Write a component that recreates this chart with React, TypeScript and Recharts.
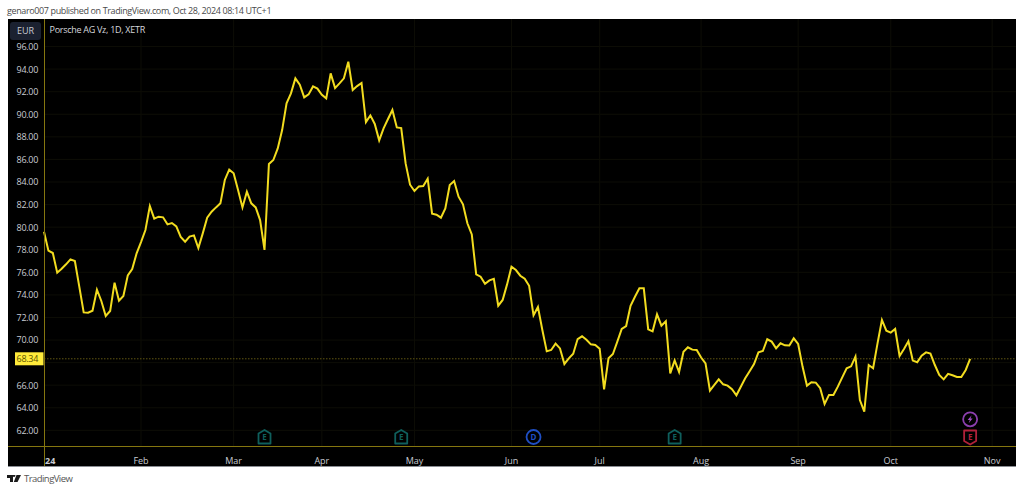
import { CartesianGrid, Line, LineChart, ReferenceDot, ReferenceLine, XAxis, YAxis } from "recharts"

// daily closes, one per trading day from 2 Jan 2024
const closes = [
  79.6, 77.92, 77.71, 75.97, 76.32, 76.71, 77.15, 77.0, 74.73, 72.45,
  72.42, 72.6, 74.46, 73.46, 72.13, 72.57, 75.08, 73.49, 73.9, 75.73,
  76.29, 77.68, 78.68, 79.75, 81.87, 80.75, 80.93, 80.87, 80.25, 80.37,
  80.07, 79.13, 78.71, 79.16, 79.27, 78.15, 79.45, 80.84, 81.37, 81.75,
  82.11, 84.18, 85.09, 84.77, 83.29, 81.75, 83.14, 82.11, 81.75, 80.63,
  77.98, 85.59, 85.95, 86.98, 88.6, 90.97, 91.85, 93.18, 92.62, 91.5,
  91.76, 92.47, 92.27, 91.73, 91.41, 93.62, 92.32, 92.74, 93.18, 94.66,
  92.15, 92.5, 92.77, 89.31, 89.9, 89.14, 87.69, 88.75, 89.58, 90.38,
  88.84, 88.78, 85.65, 83.76, 83.2, 83.61, 83.64, 84.29, 81.19, 81.1,
  80.84, 81.66, 83.73, 84.09, 82.7, 82.02, 80.34, 79.36, 75.82, 75.61,
  74.99, 75.29, 75.43, 73.04, 73.55, 74.93, 76.5, 76.2, 75.7, 75.43,
  74.81, 72.19, 72.93, 70.89, 69.0, 69.12, 69.68, 69.26, 67.88, 68.38,
  68.79, 70.09, 70.33, 70.03, 69.62, 69.56, 69.23, 65.63, 68.38, 68.76,
  69.86, 70.98, 71.24, 73.04, 73.84, 74.58, 74.58, 70.95, 70.77, 72.28,
  71.27, 71.66, 67.05, 68.2, 67.17, 68.97, 69.36, 69.15, 69.12, 68.45,
  67.94, 65.52, 66.02, 66.52, 66.08, 65.96, 65.64, 65.11, 65.87, 66.61,
  67.23, 67.88, 68.91, 69.03, 70.07, 69.86, 69.27, 69.71, 69.53, 69.51,
  70.15, 69.65, 67.65, 65.96, 66.26, 66.23, 65.73, 64.34, 65.14, 65.14,
  65.87, 66.7, 67.5, 67.67, 68.53, 64.69, 63.66, 67.79, 67.5, 69.71,
  71.78, 70.83, 70.66, 70.98, 68.59, 69.21, 69.89, 68.18, 68.03, 68.62,
  68.91, 68.8, 67.79, 66.91, 66.52, 67.0, 66.88, 66.73, 66.73, 67.35,
  68.34,
]

const monthLabels = ["24", "Feb", "Mar", "Apr", "May", "Jun", "Jul", "Aug", "Sep", "Oct", "Nov"]
const monthBars = [0, 22, 43, 63, 84, 106, 126, 149, 171, 192, 215]
const priceTicks = [62, 64, 66, 68, 70, 72, 74, 76, 78, 80, 82, 84, 86, 88, 90, 92, 94, 96]
const lastPrice = 68.34

const earningsBars = [50, 81, 143]
const dividendBar = 111
const upcomingBar = 210

const data = closes.map((close, bar) => ({ bar, close }))

const FONT = "'Open Sans', sans-serif"
const YELLOW = "#f2dc1f"
const AXIS_OLIVE = "#85760f"
const GRID = "#0d0d06"
const LABEL = "#c9ccd3"

const PriceTick = ({ y, payload }: any) => {
  if (payload.value === lastPrice) {
    return (
      <g>
        <rect x={7} y={y - 6.5} width={28.5} height={13} fill="#ffeb3b" />
        <text x={30} y={y + 3.4} textAnchor="end" fontSize={9} letterSpacing={-0.3} fill="#5a5200" fontFamily={FONT}>
          {lastPrice.toFixed(2)}
        </text>
      </g>
    )
  }
  // 68.00 sits behind the price tag in the original
  if (payload.value === 68) return <g />
  return (
    <text x={30} y={y + 3.4} textAnchor="end" fontSize={9} letterSpacing={-0.3} fill={LABEL} fontFamily={FONT}>
      {payload.value.toFixed(2)}
    </text>
  )
}

const MonthTick = ({ x, y, payload }: any) => {
  const first = payload.value === 0
  return (
    <text
      x={first ? x + 1 : x}
      y={y + 9}
      textAnchor={first ? "start" : "middle"}
      fontSize={9}
      fontWeight={first ? 700 : 400}
      fill={LABEL}
      fontFamily={FONT}
    >
      {monthLabels[monthBars.indexOf(payload.value)]}
    </text>
  )
}

const Earnings = ({ cx, cy, color, down }: any) => (
  <g transform={`translate(${cx},${cy})`}>
    <path
      d={down ? "M-6,-6.5 H6 V4 L0,7.5 L-6,4 Z" : "M-6,6.5 H6 V-3.5 L0,-7 L-6,-3.5 Z"}
      fill="none"
      stroke={color}
      strokeWidth={1.8}
      strokeLinejoin="round"
    />
    <text x={0} y={3} textAnchor="middle" fontSize={8} fontWeight={700} fill={color} fontFamily={FONT}>
      E
    </text>
  </g>
)

const Dividend = ({ cx, cy }: any) => (
  <g>
    <circle cx={cx} cy={cy} r={7} fill="none" stroke="#1f4fc4" strokeWidth={1.8} />
    <text x={cx} y={cy + 3} textAnchor="middle" fontSize={8} fontWeight={700} fill="#1f4fc4" fontFamily={FONT}>
      D
    </text>
  </g>
)

const Bolt = ({ cx, cy }: any) => (
  <g>
    <circle cx={cx} cy={cy} r={7} fill="none" stroke="#8c3fae" strokeWidth={1.8} />
    <path
      d={`M${cx + 1.5},${cy - 4} L${cx - 2.5},${cy + 0.8} H${cx - 0.3} L${cx - 1.5},${cy + 4} L${cx + 2.5},${cy - 0.8} H${cx + 0.3} Z`}
      fill="#a24fc6"
    />
  </g>
)

export default function App() {
  return (
    <div style={{ position: "absolute", left: 0, top: 0, width: 1024, height: 491, background: "#fff", overflow: "hidden", fontFamily: FONT }}>
      <div style={{ position: "absolute", left: 7, top: 4, fontSize: 9, letterSpacing: -0.38, lineHeight: "14px", color: "#4a4a4a", whiteSpace: "nowrap" }}>
        genaro007 published on TradingView.com, Oct 28, 2024 08:14 UTC+1
      </div>

      <div style={{ position: "absolute", left: 8, top: 19, width: 1008, height: 447, background: "#000", borderBottom: "1.5px solid #8a8d93" }}>
        <LineChart width={1008} height={447} data={data} margin={{ top: 0, right: 0, bottom: 0, left: 0 }}>
          <CartesianGrid stroke={GRID} horizontalValues={priceTicks} verticalValues={monthBars.slice(1)} />
          <XAxis
            dataKey="bar"
            type="number"
            domain={[0, 220.4]}
            ticks={monthBars}
            interval={0}
            height={19.5}
            axisLine={false}
            tickLine={false}
            tick={<MonthTick />}
          />
          <YAxis
            type="number"
            domain={[60.57, 98.44]}
            ticks={[...priceTicks, lastPrice]}
            interval={0}
            width={36}
            axisLine={false}
            tickLine={false}
            tick={<PriceTick />}
          />
          <ReferenceLine y={lastPrice} stroke="#5f5512" strokeDasharray="1.5 1.5" />
          {earningsBars.map((bar) => (
            <ReferenceDot key={bar} x={bar} y={61.41} ifOverflow="visible" shape={<Earnings color="#0f5f5c" />} />
          ))}
          <ReferenceDot x={dividendBar} y={61.41} ifOverflow="visible" shape={<Dividend />} />
          <ReferenceDot x={upcomingBar} y={61.41} ifOverflow="visible" shape={<Earnings color="#b0213a" down />} />
          <ReferenceDot x={upcomingBar} y={62.98} ifOverflow="visible" shape={<Bolt />} />
          <Line dataKey="close" type="linear" stroke={YELLOW} strokeWidth={2} dot={false} isAnimationActive={false} />
        </LineChart>

        {/* scale borders */}
        <div style={{ position: "absolute", left: 35.5, top: 0, width: 1, height: 447, background: AXIS_OLIVE }} />
        <div style={{ position: "absolute", left: 0, top: 427, width: 1008, height: 1, background: AXIS_OLIVE }} />

        <div style={{ position: "absolute", left: 2, top: 3, width: 31, height: 18, borderRadius: 3, background: "#1b2130", color: LABEL, fontSize: 9, lineHeight: "18px", textAlign: "center" }}>
          EUR
        </div>
        <div style={{ position: "absolute", left: 41.5, top: 4, fontSize: 9, letterSpacing: -0.28, lineHeight: "14px", color: "#d6d8dd", whiteSpace: "nowrap" }}>
          Porsche AG Vz, 1D, XETR
        </div>
      </div>

      <div style={{ position: "absolute", left: 24, top: 472, fontSize: 9.5, letterSpacing: -0.55, lineHeight: "14px", color: "#555", whiteSpace: "nowrap" }}>
        TradingView
      </div>
      <svg style={{ position: "absolute", left: 7, top: 475 }} width={15} height={9}>
        <path d="M0,0 H6 V7 H3 V3 H0 Z M7,2 a1.4,1.4 0 1 1 0.01,0 M9.5,0 H14 L10.5,7 H6.8 Z" fill="#1a1a1a" />
      </svg>
    </div>
  )
}
